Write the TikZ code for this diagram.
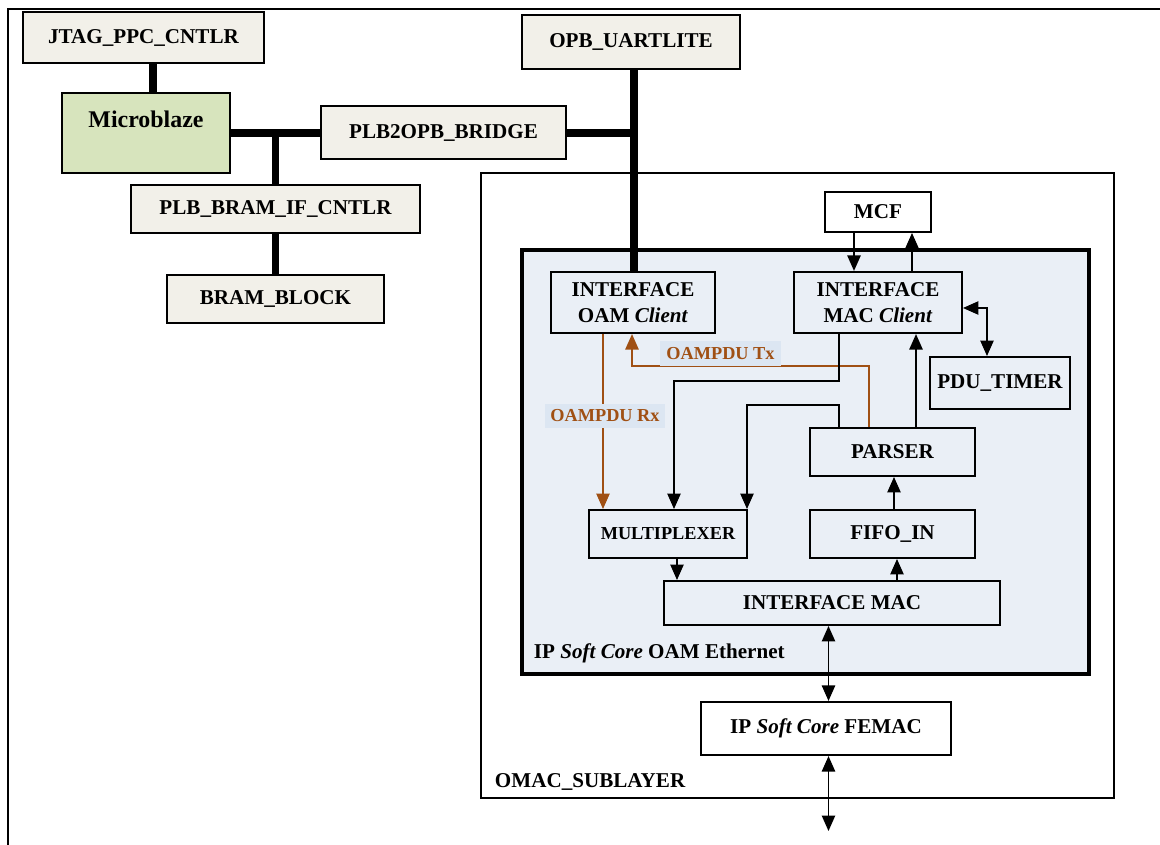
\documentclass[tikz,border=0pt]{standalone}
\usepackage{fontspec}
\setmainfont{Liberation Serif}
\usepackage{xcolor}
\usepackage{tikz}
\usetikzlibrary{arrows.meta}

\definecolor{boxfill}{RGB}{242,240,233}
\definecolor{mbfill}{RGB}{215,228,189}
\definecolor{ipfill}{RGB}{234,239,246}
\definecolor{lblfill}{RGB}{220,230,242}
\definecolor{pdubrown}{RGB}{160,80,20}

\begin{document}
\begin{tikzpicture}[x=0.025cm, y=-0.025cm,
        every node/.style={font=\fontsize{15}{18}\selectfont\bfseries},
        blk/.style={draw, line width=1.4pt, fill=boxfill, align=center, inner sep=0pt},
        wblk/.style={draw, line width=1.4pt, fill=white, align=center, inner sep=0pt},
        bus/.style={line width=5.5pt},
        arr/.style={-{Triangle[width=9.5pt,length=11pt]}, line width=1pt},
        dblarr/.style={{Triangle[width=9.5pt,length=11pt]}-{Triangle[width=9.5pt,length=11pt]}, line width=1pt},
        brarr/.style={-{Triangle[width=9.5pt,length=11pt]}, line width=1pt, draw=pdubrown},
        lbl/.style={fill=lblfill, text=pdubrown, inner sep=0pt, minimum width=3cm, minimum height=0.62cm,
                    font=\fontsize{13}{15}\selectfont\bfseries}]
        \useasboundingbox (0,0) rectangle (1160,845);
        \draw[line width=1.5pt] (8,845) -- (8,9) -- (1160,9);

        % processor side
        \node[blk, minimum width=6.03cm, minimum height=1.28cm] (jtag) at (143.5,37.5) {JTAG\_PPC\_CNTLR};
        \node[blk, fill=mbfill, minimum width=4.2cm, minimum height=2cm, text height=0.4cm, text depth=0.65cm,
              font=\fontsize{17}{20}\selectfont\bfseries] (micro) at (146,133) {Microblaze};
        \node[blk, minimum width=6.13cm, minimum height=1.33cm] (plbopb) at (443.5,132.5) {PLB2OPB\_BRIDGE};
        \node[blk, minimum width=7.23cm, minimum height=1.2cm] (plbbram) at (275.5,209) {PLB\_BRAM\_IF\_CNTLR};
        \node[blk, minimum width=5.43cm, minimum height=1.2cm] (bram) at (275.5,299) {BRAM\_BLOCK};
        \node[blk, minimum width=5.45cm, minimum height=1.33cm] (uart) at (631,42) {OPB\_UARTLITE};

        % sublayer
        \node[draw, line width=1pt, fill=white, minimum width=15.83cm, minimum height=15.63cm] (omac) at (797.5,485.5) {};
        \node[anchor=west] (omaclbl) at (490,782) {OMAC\_SUBLAYER};
        \node[draw, line width=2.6pt, fill=ipfill, minimum width=14.18cm, minimum height=10.6cm] (oameth) at (805.5,462) {};
        \node[anchor=west] (ethlbl) at (529,653) {IP \textit{Soft Core} OAM Ethernet};

        \node[wblk, minimum width=2.65cm, minimum height=1cm] (mcf) at (878,212) {MCF};
        \node[blk, fill=ipfill, minimum width=4.1cm, minimum height=1.53cm] (oamcl) at (633,302.5) {INTERFACE\\OAM \textit{Client}};
        \node[blk, fill=ipfill, minimum width=4.2cm, minimum height=1.53cm] (maccl) at (878,302.5) {INTERFACE\\MAC \textit{Client}};
        \node[blk, fill=ipfill, minimum width=3.5cm, minimum height=1.3cm] (pdu) at (1000,383) {PDU\_TIMER};
        \node[blk, fill=ipfill, minimum width=4.13cm, minimum height=1.2cm] (parser) at (892.5,452) {PARSER};
        \node[blk, fill=ipfill, minimum width=3.93cm, minimum height=1.2cm,
              font=\fontsize{13}{15}\selectfont\bfseries] (mux) at (668,534) {MULTIPLEXER};
        \node[blk, fill=ipfill, minimum width=4.13cm, minimum height=1.2cm] (fifo) at (892.5,534) {FIFO\_IN};
        \node[blk, fill=ipfill, minimum width=8.4cm, minimum height=1.1cm] (imac) at (832,603) {INTERFACE MAC};
        \node[wblk, minimum width=6.25cm, minimum height=1.33cm] (femac) at (826,728.5) {IP \textit{Soft Core} FEMAC};
        \coordinate (phy) at (828.5,831);

        % buses
        \coordinate (jb) at (plbbram.north |- micro.east);
        \coordinate (ju) at (634,133);
        \draw[bus] (jtag.south -| 153,0) -- (micro.north -| 153,0);
        \draw[bus] (micro.east) -- (plbopb.west |- micro.east);
        \draw[bus] (jb) -- (plbbram.north);
        \draw[bus] (plbbram.south) -- (bram.north);
        \draw[bus] (plbopb.east |- ju) -- (ju);
        \draw[bus] (uart.south -| ju) -- (oamcl.north -| ju);

        % signals
        \draw[arr] (mcf.south -| 854,0) -- (maccl.north -| 854,0);
        \draw[arr] (maccl.north -| 912,0) -- (mcf.south -| 912,0);
        \draw[dblarr] (maccl.east |- 0,308) -| (pdu.north -| 987,0);
        \draw[brarr] (oamcl.south -| 603,0) -- (mux.north -| 603,0);
        \draw[brarr] (parser.north -| 869,0) -- (869,366) -| (oamcl.south -| 632,0);
        \draw[arr] (maccl.south -| 839,0) -- (839,381) -| (mux.north -| 674,0);
        \draw[arr] (parser.north -| 839,0) -- (839,405) -| (mux.north -| 747,0);
        \draw[arr] (parser.north -| 916,0) -- (maccl.south -| 916,0);
        \draw[arr] (fifo.north -| 894,0) -- (parser.south -| 894,0);
        \draw[arr] (mux.south -| 677,0) -- (imac.north -| 677,0);
        \draw[arr] (imac.north -| 897,0) -- (fifo.south -| 897,0);
        \draw[dblarr] (imac.south -| phy) -- (femac.north -| phy);
        \draw[dblarr] (femac.south -| phy) -- (phy);

        \node[lbl] (txlbl) at (720.5,353.5) {OAMPDU Tx};
        \node[lbl] (rxlbl) at (605,416) {OAMPDU Rx};
    \end{tikzpicture}
\end{document}
